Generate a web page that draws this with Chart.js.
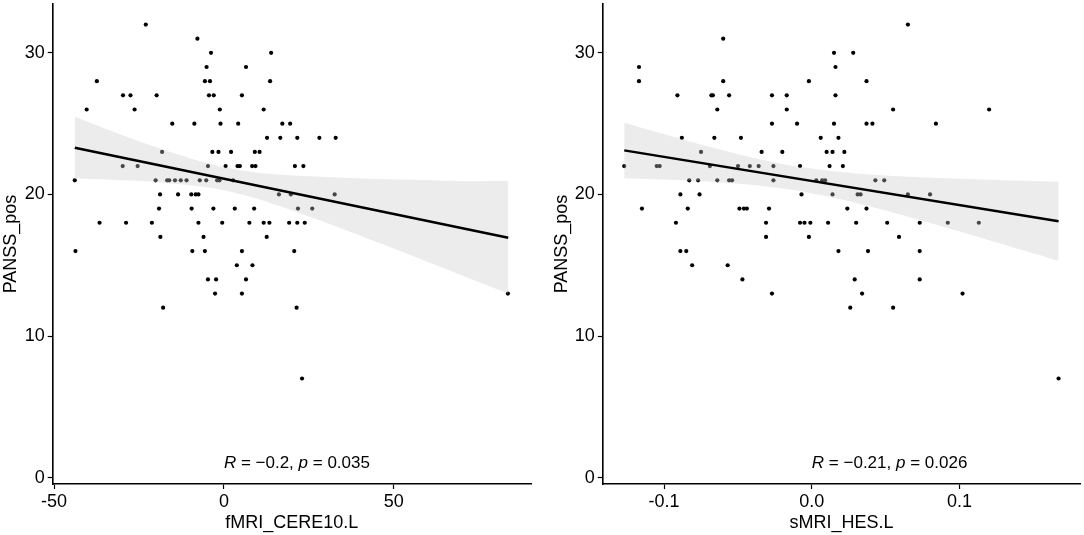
<!DOCTYPE html>
<html>
<head>
<meta charset="utf-8">
<script src="https://cdn.jsdelivr.net/npm/chart.js@4.4.1/dist/chart.umd.min.js"></script>
<style>
    html, body { margin: 0; padding: 0; background: #fff; }
    #wrap { position: relative; width: 1084px; height: 535px; }
    .panel { position: absolute; top: 0; width: 542px; height: 535px; }
</style>
</head>
<body>
<div id="wrap">
    <div class="panel" style="left:0"><canvas id="fmri"></canvas></div>
    <div class="panel" style="left:542px"><canvas id="smri"></canvas></div>
</div>
<script>
// ---- left panel: fMRI_CERE10.L vs PANSS_pos ----
const fmriValue = [
    -23.0,
    -7.8,
    -3.8, 13.9,
    -5.1, 6.5,
    -37.4, -5.6, -4.1, 13.6,
    -29.7, -27.5, -19.8, -4.4, -3.0, 5.3,
    -40.4, -26.3, -1.2, 11.7,
    -15.2, -8.7, -1.0, 4.2, 17.2, 19.5,
    12.7, 16.6, 21.6, 28.1, 32.9,
    -18.2, -3.4, -1.6, 2.1, 9.1, 10.5,
    -29.8, -25.4, -4.7, 0.5, 4.0, 4.7, 8.3, 9.3, 20.9, 23.4,
    -43.9, -20.1, -16.7, -16.1, -14.4, -12.7, -11.0, -7.1, -5.2, -2.0, -1.3, 2.7,
    -18.8, -13.5, -9.6, -8.3, -7.5, 16.2, 19.7, 32.6,
    -19.1, -9.5, -3.1, 3.2, 8.9, 21.8, 26.0,
    -36.6, -28.8, -21.2, -7.5, -0.5, 7.5, 11.7, 13.4, 19.2, 21.6, 23.8,
    -18.7, -6.0, 12.6,
    -43.7, -9.3, -5.6, 5.3, 20.7,
    3.8, 8.4,
    -4.7, -2.3, 6.5,
    -2.6, 5.3, 83.6,
    -17.9, 21.4,
    23.0
];
const fmriScore = [
    32,
    31,
    30, 30,
    29, 29,
    28, 28, 28, 28,
    27, 27, 27, 27, 27, 27,
    26, 26, 26, 26,
    25, 25, 25, 25, 25, 25,
    24, 24, 24, 24, 24,
    23, 23, 23, 23, 23, 23,
    22, 22, 22, 22, 22, 22, 22, 22, 22, 22,
    21, 21, 21, 21, 21, 21, 21, 21, 21, 21, 21, 21,
    20, 20, 20, 20, 20, 20, 20, 20,
    19, 19, 19, 19, 19, 19, 19,
    18, 18, 18, 18, 18, 18, 18, 18, 18, 18, 18,
    17, 17, 17,
    16, 16, 16, 16, 16,
    15, 15,
    14, 14, 14,
    13, 13, 13,
    12, 12,
    7
];
const fmriFitX = [-43.9, 83.7];
const fmriFitY = [23.30, 16.94];
const fmriBandX = [-43.9, -32, -20, -2.6, 10, 26.8, 40.6, 56.3, 70, 83.7];
const fmriBandHi = [25.48, 24.38, 23.34, 22.06, 21.54, 21.26, 21.13, 21.03, 20.94, 20.95];
const fmriBandLo = [21.12, 21.02, 20.88, 20.42, 19.68, 18.30, 17.05, 15.59, 14.30, 13.00];
const fmriTicks = [-50, 0, 50];
const fmriTickLabels = ['-50', '0', '50'];

// ---- right panel: sMRI_HES.L vs PANSS_pos ----
const smriValue = [
    0.065,
    -0.060,
    0.015, 0.028,
    -0.117, 0.016,
    -0.117, -0.060, -0.002, 0.037,
    -0.091, -0.068, -0.067, -0.056, -0.027, -0.017, 0.016,
    -0.064, -0.017, 0.055, 0.120,
    -0.027, -0.010, 0.015, 0.037, 0.041, 0.084,
    -0.088, -0.066, -0.048, 0.006, 0.018,
    -0.075, -0.034, -0.020, 0.010, 0.014, 0.022,
    -0.127, -0.105, -0.103, -0.069, -0.050, -0.042, -0.036, -0.026, -0.008, 0.012, 0.021,
    -0.083, -0.077, -0.064, -0.056, -0.054, -0.026, 0.003, 0.007, 0.009, 0.043, 0.049,
    -0.089, -0.076, -0.007, 0.014, 0.031, 0.033, 0.065, 0.080,
    -0.115, -0.084, -0.049, -0.046, -0.044, -0.029, 0.024, 0.037,
    -0.092, -0.031, -0.008, -0.005, -0.001, 0.011, 0.030, 0.051, 0.073, 0.092, 0.113,
    -0.031, -0.002, 0.059,
    -0.089, -0.085, 0.018, 0.038, 0.073,
    -0.081, -0.057,
    -0.047, 0.029, 0.073,
    -0.027, 0.034, 0.102,
    0.026, 0.055,
    0.167
];
const smriScore = [
    32,
    31,
    30, 30,
    29, 29,
    28, 28, 28, 28,
    27, 27, 27, 27, 27, 27, 27,
    26, 26, 26, 26,
    25, 25, 25, 25, 25, 25,
    24, 24, 24, 24, 24,
    23, 23, 23, 23, 23, 23,
    22, 22, 22, 22, 22, 22, 22, 22, 22, 22, 22,
    21, 21, 21, 21, 21, 21, 21, 21, 21, 21, 21,
    20, 20, 20, 20, 20, 20, 20, 20,
    19, 19, 19, 19, 19, 19, 19, 19,
    18, 18, 18, 18, 18, 18, 18, 18, 18, 18, 18,
    17, 17, 17,
    16, 16, 16, 16, 16,
    15, 15,
    14, 14, 14,
    13, 13, 13,
    12, 12,
    7
];
const smriFitX = [-0.127, 0.167];
const smriFitY = [23.11, 18.11];
const smriBandX = [-0.127, -0.1, -0.07, -0.04, -0.01, 0.03, 0.07, 0.1, 0.13, 0.167];
const smriBandHi = [25.06, 24.25, 23.38, 22.59, 21.97, 21.48, 21.23, 21.11, 21.01, 20.91];
const smriBandLo = [21.15, 21.05, 20.90, 20.67, 20.27, 19.40, 18.29, 17.39, 16.47, 15.32];
const smriTicks = [-0.1, 0, 0.1];
const smriTickLabels = ['-0.1', '0.0', '0.1'];

const scoreTicks = [0, 10, 20, 30];
const scoreTickLabels = ['0', '10', '20', '30'];

const FONT = "'Liberation Sans', Arial, sans-serif";
Chart.defaults.font.family = FONT;
Chart.defaults.color = '#000';

const toPoints = (xs, ys) => xs.map((x, i) => ({ x: x, y: ys[i] }));

// R / p label drawn at data coordinates, italic letters like ggpubr
const corLabel = {
    id: 'corLabel',
    afterDatasetsDraw(chart, args, opts) {
        const { ctx, scales } = chart;
        let px = scales.x.getPixelForValue(opts.x);
        const py = scales.y.getPixelForValue(opts.y);
        ctx.save();
        ctx.fillStyle = '#000';
        ctx.textBaseline = 'middle';
        ctx.textAlign = 'left';
        opts.parts.forEach(([text, italic]) => {
            ctx.font = (italic ? 'italic ' : '') + opts.size + 'px ' + FONT;
            ctx.fillText(text, px, py);
            px += ctx.measureText(text).width;
        });
        ctx.restore();
    }
};

function makePanel(id, p) {
    return new Chart(document.getElementById(id), {
        type: 'scatter',
        data: {
            datasets: [
                {
                    label: 'fit',
                    data: toPoints(p.fitX, p.fitY),
                    showLine: true,
                    borderColor: '#000',
                    borderWidth: 2.4,
                    pointRadius: 0
                },
                {
                    label: 'ci upper',
                    data: toPoints(p.bandX, p.bandHi),
                    showLine: true,
                    borderWidth: 0,
                    borderColor: 'rgba(0,0,0,0)',
                    backgroundColor: 'rgba(200,200,200,0.35)',
                    fill: '+1',
                    tension: 0.3,
                    pointRadius: 0
                },
                {
                    label: 'ci lower',
                    data: toPoints(p.bandX, p.bandLo),
                    showLine: true,
                    borderWidth: 0,
                    borderColor: 'rgba(0,0,0,0)',
                    tension: 0.3,
                    pointRadius: 0
                },
                {
                    label: 'subjects',
                    data: toPoints(p.xs, p.ys),
                    pointRadius: 2.1,
                    pointBorderWidth: 0,
                    backgroundColor: '#000',
                    borderColor: '#000'
                }
            ]
        },
        options: {
            responsive: true,
            maintainAspectRatio: false,
            animation: false,
            events: [],
            layout: { padding: { left: p.padLeft, right: p.padRight, top: 3.4, bottom: 0 } },
            plugins: {
                legend: { display: false },
                tooltip: { enabled: false },
                corLabel: { x: 0, y: 1, size: 17, parts: p.label }
            },
            scales: {
                x: {
                    type: 'linear',
                    min: p.xMin,
                    max: p.xMax,
                    afterFit: s => {
                        s.height = 51;
                        s.paddingLeft = 0;
                        s.paddingRight = 0;
                    },
                    afterBuildTicks: s => { s.ticks = p.ticks.map(v => ({ value: v })); },
                    ticks: {
                        font: { size: 18 },
                        padding: 2,
                        maxRotation: 0,
                        callback: (v, i) => p.tickLabels[i]
                    },
                    grid: {
                        drawOnChartArea: false,
                        tickLength: 5,
                        tickColor: '#000',
                        tickWidth: 1.2
                    },
                    border: { color: '#000', width: 1.6 },
                    title: {
                        display: true,
                        text: p.xTitle,
                        font: { size: 18 },
                        padding: { top: 0, bottom: 1 }
                    }
                },
                y: {
                    type: 'linear',
                    min: -0.45,
                    max: 33.45,
                    afterFit: s => {
                        s.width = p.yWidth;
                        s.paddingTop = 0;
                        s.paddingBottom = 0;
                    },
                    afterBuildTicks: s => { s.ticks = scoreTicks.map(v => ({ value: v })); },
                    ticks: {
                        font: { size: 18 },
                        padding: 3,
                        callback: (v, i) => scoreTickLabels[i]
                    },
                    grid: {
                        drawOnChartArea: false,
                        tickLength: 5,
                        tickColor: '#000',
                        tickWidth: 1.2
                    },
                    border: { color: '#000', width: 1.6 },
                    title: {
                        display: true,
                        text: 'PANSS_pos',
                        font: { size: 18 },
                        padding: { top: 0, bottom: 0 }
                    }
                }
            }
        },
        plugins: [corLabel]
    });
}

// eslint-disable-next-line no-unused-vars
const fmriChart = makePanel('fmri', {
    xs: fmriValue, ys: fmriScore,
    fitX: fmriFitX, fitY: fmriFitY,
    bandX: fmriBandX, bandHi: fmriBandHi, bandLo: fmriBandLo,
    ticks: fmriTicks, tickLabels: fmriTickLabels,
    xMin: -50.4, xMax: 90.4,
    xTitle: 'fMRI_CERE10.L',
    padLeft: 0, padRight: 11, yWidth: 52.7,
    label: [['R', true], [' = \u22120.2, ', false], ['p', true], [' = 0.035', false]]
});

// eslint-disable-next-line no-unused-vars
const smriChart = makePanel('smri', {
    xs: smriValue, ys: smriScore,
    fitX: smriFitX, fitY: smriFitY,
    bandX: smriBandX, bandHi: smriBandHi, bandLo: smriBandLo,
    ticks: smriTicks, tickLabels: smriTickLabels,
    xMin: -0.1415, xMax: 0.1815,
    xTitle: 'sMRI_HES.L',
    padLeft: 9, padRight: 3.7, yWidth: 51.8,
    label: [['R', true], [' = \u22120.21, ', false], ['p', true], [' = 0.026', false]]
});
</script>
</body>
</html>
